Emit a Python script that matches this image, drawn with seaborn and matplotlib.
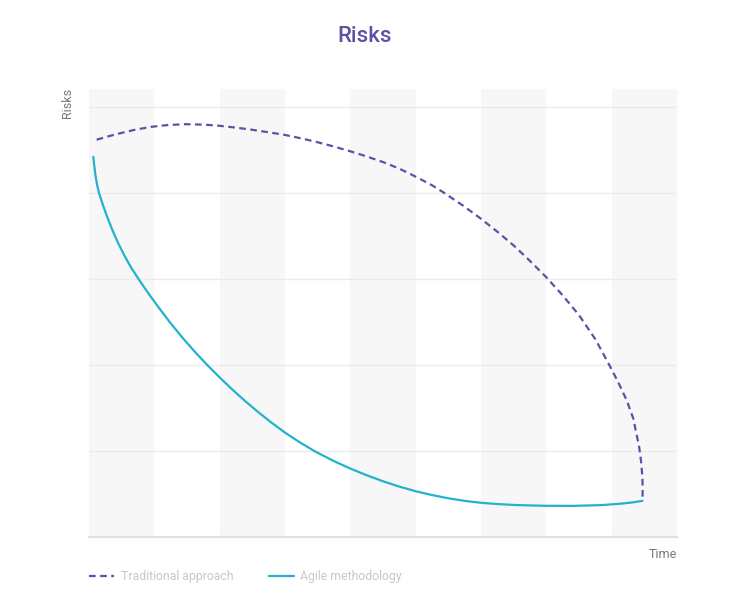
import matplotlib
matplotlib.use("Agg")
import matplotlib.pyplot as plt
import seaborn as sns
import pandas as pd
from matplotlib.lines import Line2D

trad_x = [0.117, 0.3, 0.45, 0.7, 0.96, 1.2, 1.47, 1.75, 1.98, 2.25, 2.5, 2.8, 3.0, 3.25, 3.5, 3.75,
          4.0, 4.25, 4.5, 4.76, 5.0, 5.25, 5.42, 5.75, 6.0, 6.25, 6.5, 6.75, 7.0, 7.25, 7.5, 7.75,
          7.95, 8.1, 8.23, 8.33, 8.42, 8.45, 8.47, 8.475, 8.47]
trad_y = [4.62, 4.66, 4.69, 4.735, 4.77, 4.79, 4.80, 4.795, 4.783, 4.76, 4.735, 4.70, 4.675, 4.635, 4.59, 4.54,
          4.485, 4.425, 4.36, 4.28, 4.19, 4.09, 4.01, 3.84, 3.70, 3.55, 3.39, 3.21, 3.02, 2.81, 2.58, 2.30,
          2.02, 1.80, 1.59, 1.38, 1.05, 0.88, 0.70, 0.55, 0.42]

agile_x = [0.066, 0.08, 0.10, 0.125, 0.153, 0.2, 0.25, 0.3, 0.37, 0.45, 0.55, 0.65, 0.78, 0.9, 1.09, 1.25,
           1.45, 1.63, 1.81, 2.0, 2.2, 2.4, 2.6, 2.8, 3.0, 3.23, 3.46, 3.75, 4.0, 4.25, 4.5, 4.75,
           5.0, 5.25, 5.5, 5.75, 6.0, 6.25, 6.5, 6.75, 7.0, 7.4, 7.82, 8.1, 8.3, 8.47]
agile_y = [4.42, 4.32, 4.20, 4.09, 4.00, 3.89, 3.78, 3.68, 3.547, 3.411, 3.261, 3.126, 2.975, 2.842, 2.645, 2.485,
           2.30, 2.145, 2.00, 1.855, 1.71, 1.574, 1.446, 1.326, 1.214, 1.099, 0.995, 0.882, 0.796, 0.718, 0.648, 0.586,
           0.532, 0.488, 0.45, 0.42, 0.398, 0.383, 0.373, 0.367, 0.363, 0.362, 0.37, 0.385, 0.40, 0.42]

series_names = ["Traditional approach", "Agile methodology"]
n_bands = 9

df = pd.concat([
    pd.DataFrame({"Time": trad_x, "Risks": trad_y, "Series": series_names[0]}),
    pd.DataFrame({"Time": agile_x, "Risks": agile_y, "Series": series_names[1]}),
], ignore_index=True)

sns.set_theme(style="white")
plt.rcParams["font.family"] = ["Roboto", "DejaVu Sans"]

fig = plt.figure(figsize=(7.3, 6.0), dpi=100)
ax = fig.add_axes([89/730, 1-537/600, (677-89)/730, (537-89)/600])

for i in range(0, n_bands, 2):
    ax.axvspan(i, i+1, color="#f7f7f7", lw=0, zorder=0)
for yv in [1, 2, 3, 4, 5]:
    ax.axhline(yv, color="#ebebeb", lw=1, zorder=1)

palette = {series_names[0]: "#5b52a8", series_names[1]: "#22b2cc"}
sns.lineplot(data=df, x="Time", y="Risks", hue="Series", style="Series",
             palette=palette, dashes={series_names[0]: (3, 2), series_names[1]: ""},
             sort=False, estimator=None, linewidth=1.6, ax=ax, zorder=3, legend=False)

ax.set_xlim(0, n_bands)
ax.set_ylim(0, 448/86)
ax.set_xticks([])
ax.set_yticks([])
for s in ["top", "right", "left"]:
    ax.spines[s].set_visible(False)
ax.spines["bottom"].set_color("#e0e0e0")
ax.spines["bottom"].set_linewidth(1.5)
ax.set_xlabel("")
ax.set_ylabel("")

fig.text(365/730, 1-36/600, "Risks", ha="center", va="center", fontsize=16,
         color="#5b52a8", fontweight="medium")
fig.text(68/730, 1-88/600, "Risks", ha="center", va="top", rotation=90,
         fontsize=9, color="#777777")
fig.text(677/730, 1-554/600, "Time", ha="right", va="center", fontsize=9, color="#777777")

handles = [Line2D([], [], color="#5b52a8", lw=1.6, dashes=(3, 2)),
           Line2D([], [], color="#22b2cc", lw=1.6)]
leg = fig.legend(handles, series_names, loc="center left",
                 bbox_to_anchor=(78/730, 1-576.5/600), ncol=2, frameon=False,
                 fontsize=8.8, handlelength=2.05, handletextpad=0.55, columnspacing=2.9,
                 labelcolor="#c8c8c8")

fig.savefig("out.png", dpi=100)
